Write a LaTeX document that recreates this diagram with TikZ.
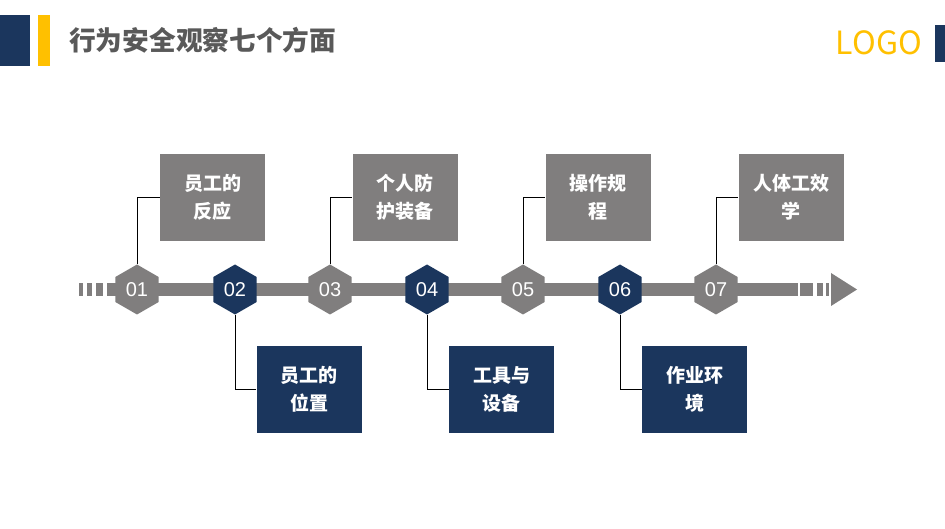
\documentclass[tikz,border=0pt]{standalone}
\usepackage{fontspec}
\setmainfont{Noto Sans CJK SC}
\newfontfamily\numfont{Liberation Sans}
\usetikzlibrary{shapes.geometric}
\definecolor{cgray}{RGB}{128,126,126}
\definecolor{cblue}{RGB}{27,54,93}
\definecolor{cyel}{RGB}{255,192,0}
\definecolor{ctitle}{RGB}{89,89,89}
\tikzset{
  hexa/.style={regular polygon, regular polygon sides=6, shape border rotate=30, minimum size=50pt, inner sep=0pt, text=white, font=\numfont\fontsize{20pt}{20pt}\selectfont},
  hexg/.style={hexa, fill=cgray},
  hexb/.style={hexa, fill=cblue},
  boxa/.style={minimum width=105pt, minimum height=87pt, inner sep=0pt, text=white, align=center, font=\fontsize{19pt}{28pt}\selectfont\bfseries},
  boxg/.style={boxa, fill=cgray},
  boxb/.style={boxa, fill=cblue},
  link/.style={draw=black, line width=0.9pt},
}
\begin{document}
\begin{tikzpicture}[x=1pt, y=-1pt]
\useasboundingbox (0,0) rectangle (945,529);
\fill[white] (0,0) rectangle (945,529);
% header
\fill[cblue] (0,15) rectangle (30,66);
\fill[cyel] (38,15) rectangle (50,66);
\node[anchor=west, inner sep=0pt, text=ctitle, font=\fontsize{26.7pt}{26.7pt}\selectfont\bfseries] (title) at (69,40) {行为安全观察七个方面};
\node[anchor=east, inner sep=0pt, text=cyel, font=\fontsize{32pt}{32pt}\selectfont] (logo) at (922,43) {LOGO};
\fill[cblue] (935,25) rectangle (945,62);
% timeline bar
\fill[cgray] (79,283) rectangle (83,296);
\fill[cgray] (87,283) rectangle (92,296);
\fill[cgray] (96,283) rectangle (103,296);
\fill[cgray] (107,283) rectangle (798,296);
\fill[cgray] (800,283) rectangle (813,296);
\fill[cgray] (817,283) rectangle (823,296);
\fill[cgray] (826,283) rectangle (829,296);
\fill[cgray] (831,273) -- (857,289.5) -- (831,306) -- cycle;
% hexagons
\node[hexg] (h1) at (137,289.5) {01};
\node[hexb] (h2) at (235,289.5) {02};
\node[hexg] (h3) at (330,289.5) {03};
\node[hexb] (h4) at (427,289.5) {04};
\node[hexg] (h5) at (523,289.5) {05};
\node[hexb] (h6) at (620,289.5) {06};
\node[hexg] (h7) at (716,289.5) {07};
% boxes
\node[boxg] (b1) at (212.5,197.5) {员工的\\反应};
\node[boxb] (b2) at (309,389) {员工的\\位置};
\node[boxg] (b3) at (405,197.5) {个人防\\护装备};
\node[boxb] (b4) at (501.5,389) {工具与\\设备};
\node[boxg] (b5) at (598,197.5) {操作规\\程};
\node[boxb] (b6) at (694.5,389) {作业环\\境};
\node[boxg] (b7) at (791,197.5) {人体工效\\学};
% links
\draw[link] (h1.north) |- (b1.west);
\draw[link] (h2.south) |- (b2.west);
\draw[link] (h3.north) |- (b3.west);
\draw[link] (h4.south) |- (b4.west);
\draw[link] (h5.north) |- (b5.west);
\draw[link] (h6.south) |- (b6.west);
\draw[link] (h7.north) |- (b7.west);
\end{tikzpicture}
\end{document}
